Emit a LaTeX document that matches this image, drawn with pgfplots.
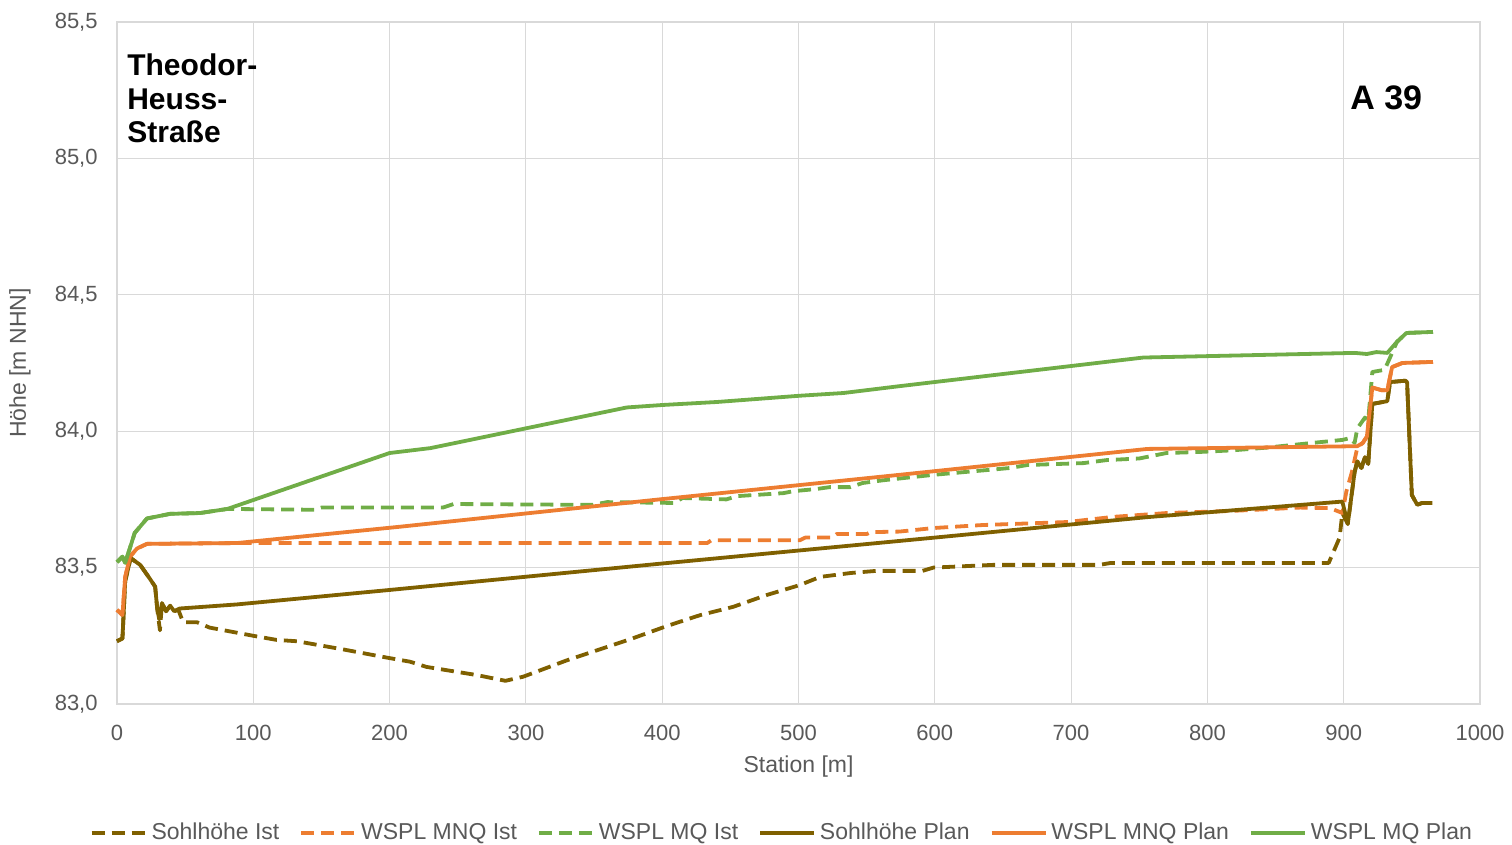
\documentclass[border=0pt]{standalone}
\usepackage{pgfplots}
\pgfplotsset{compat=1.18}
\usepackage{fontspec}
\setmainfont{Liberation Sans}
\definecolor{cbrown}{HTML}{7F6000}
\definecolor{corange}{HTML}{ED7D31}
\definecolor{cgreen}{HTML}{70AD47}
\definecolor{ctext}{HTML}{595959}
\definecolor{cgrid}{HTML}{D9D9D9}
\begin{document}
\begin{tikzpicture}
\useasboundingbox (-58.5pt,-70.5pt) rectangle (697.5pt,352pt);
\begin{axis}[
  at={(0,0)}, anchor=south west,
  scale only axis, width=681.5pt, height=341pt,
  xmin=0, xmax=1000, ymin=83, ymax=85.5,
  xtick={0,100,...,1000}, ytick={83,83.5,...,85.5},
  grid=major, major grid style={cgrid, line width=0.6pt},
  axis line style={cgrid, line width=0.6pt},
  major tick length=0pt,
  /pgf/number format/.cd, use comma, 1000 sep={}, assume math mode=true,
  /pgfplots/.cd,
  yticklabel={\pgfmathprintnumber[fixed,fixed zerofill,precision=1]{\tick}},
  xticklabel style={anchor=north, inner sep=0pt, yshift=-10.5pt, font=\fontsize{11}{13}\selectfont, text=ctext},
  yticklabel style={anchor=east, inner sep=0pt, xshift=-9.5pt, font=\fontsize{11}{13}\selectfont, text=ctext},
  xlabel={Station [m]},
  ylabel={Höhe [m NHN]},
  xlabel style={at={(axis description cs:0.5,-0.0924)}, anchor=center, font=\fontsize{11.5}{13}\selectfont, text=ctext},
  ylabel style={at={(axis description cs:-0.0712,0.5)}, anchor=center, font=\fontsize{11.5}{13}\selectfont, text=ctext},
  legend columns=6,
  legend style={at={(axis description cs:0.4885,-0.189)}, anchor=center, draw=none, fill=none,
    font=\fontsize{11.5}{13}\selectfont, text=ctext, /tikz/every even column/.append style={column sep=8pt}},
  legend image code/.code={\draw[#1] (0pt,0pt) -- (27pt,0pt);},
  every axis plot/.append style={line width=1.9pt, line join=round},
  clip=false,
]
\addplot[cbrown, dash pattern=on 6.5pt off 3.5pt] coordinates {
(0,83.23)(4,83.24)(6,83.45)(10,83.535)(17,83.51)(24,83.46)(28,83.43)(29.5,83.35)(31.5,83.27)(33,83.37)(36,83.34)(39,83.36)(42,83.34)(45,83.345)(48.5,83.30)(58.5,83.30)(68,83.28)(100,83.25)(117,83.235)(132,83.23)(166,83.20)(198,83.17)(215,83.155)(227,83.136)(264,83.106)(285,83.085)(298,83.10)(330,83.16)(354,83.20)(378,83.24)(403,83.285)(428,83.326)(452,83.356)(477,83.40)(501,83.436)(516,83.466)(538,83.48)(557,83.488)(591,83.488)(599,83.50)(643,83.51)(721,83.51)(729,83.517)(889,83.517)(897,83.61)(899,83.70)(903,83.66)(908,83.85)(910,83.89)(913,83.865)(915.6,83.905)(918,83.88)(921,84.10)(932,84.11)(934,84.18)(945,84.185)(946.5,84.18)(950,83.766)(954,83.73)(957.5,83.737)(965,83.737)
};
\addlegendentry{Sohlhöhe Ist}
\addplot[corange, dash pattern=on 6.5pt off 3.5pt] coordinates {
(0,83.345)(4,83.326)(6,83.465)(9.5,83.54)(14.7,83.57)(22,83.587)(88,83.59)(433,83.59)(436,83.60)(501,83.60)(505,83.61)(525,83.61)(528,83.623)(550,83.623)(553,83.63)(574,83.632)(599,83.645)(635,83.656)(697,83.667)(731,83.686)(770,83.70)(819,83.708)(868,83.72)(890,83.718)(899,83.70)(902,83.78)(906,83.85)(910,83.94)(914,83.957)(917,83.98)(921,84.16)(928,84.15)(932,84.15)(935.5,84.235)(943,84.25)(965.5,84.254)
};
\addlegendentry{WSPL MNQ Ist}
\addplot[cgreen, dash pattern=on 6.5pt off 3.5pt] coordinates {
(0,83.52)(4,83.54)(6,83.517)(13,83.627)(22,83.68)(39,83.697)(61,83.70)(81,83.715)(145,83.712)(150,83.72)(239,83.72)(247,83.733)(349,83.73)(359.5,83.74)(408,83.737)(415,83.755)(447,83.75)(455,83.762)(489,83.773)(496,83.78)(513,83.788)(523,83.795)(538,83.795)(547,83.81)(562,83.82)(599,83.84)(655,83.865)(668,83.876)(709,83.883)(726,83.894)(750,83.90)(770,83.92)(795,83.924)(819,83.93)(844,83.94)(877,83.957)(899,83.968)(905,83.975)(908,83.957)(910,84.01)(915.6,84.05)(918,84.04)(921,84.217)(930,84.225)(934,84.27)(939,84.327)(946,84.36)(965.5,84.364)
};
\addlegendentry{WSPL MQ Ist}
\addplot[cbrown] coordinates {
(0,83.23)(4,83.24)(6,83.45)(10,83.535)(17,83.51)(24,83.46)(28,83.43)(29.5,83.35)(31,83.31)(33,83.37)(36,83.34)(39,83.36)(42,83.34)(46,83.35)(88,83.365)(200,83.418)(400,83.515)(600,83.61)(756,83.685)(899,83.742)(903,83.66)(908,83.85)(910,83.89)(913,83.865)(915.6,83.905)(918,83.88)(921,84.10)(932,84.11)(934,84.18)(945,84.185)(946.5,84.18)(950,83.766)(954,83.73)(957.5,83.737)(965,83.737)
};
\addlegendentry{Sohlhöhe Plan}
\addplot[corange] coordinates {
(0,83.345)(4,83.326)(6,83.465)(9.5,83.54)(14.7,83.57)(22,83.587)(88,83.59)(208,83.65)(398,83.75)(574,83.84)(756,83.935)(910,83.945)(914,83.957)(917,83.98)(921,84.16)(928,84.15)(932,84.15)(935.5,84.235)(943,84.25)(965.5,84.254)
};
\addlegendentry{WSPL MNQ Plan}
\addplot[cgreen] coordinates {
(0,83.52)(4,83.54)(6,83.517)(13,83.627)(22,83.68)(39,83.697)(61,83.70)(81,83.715)(200,83.92)(230,83.938)(374,84.087)(400,84.096)(440,84.107)(501,84.13)(533,84.14)(574,84.165)(753,84.27)(908,84.287)(917,84.283)(924,84.29)(932,84.287)(939,84.327)(946,84.36)(965.5,84.364)
};
\addlegendentry{WSPL MQ Plan}
\node[anchor=base west, align=left, inner sep=0pt, font=\bfseries\fontsize{15}{16.75}\selectfont] at (rel axis cs:0.0073,0.8226) {Theodor-\\Heuss-\\Straße};
\node[anchor=base west, inner sep=0pt, font=\bfseries\fontsize{17}{19}\selectfont] at (rel axis cs:0.9046,0.871) {A 39};
\end{axis}
\end{tikzpicture}
\end{document}
